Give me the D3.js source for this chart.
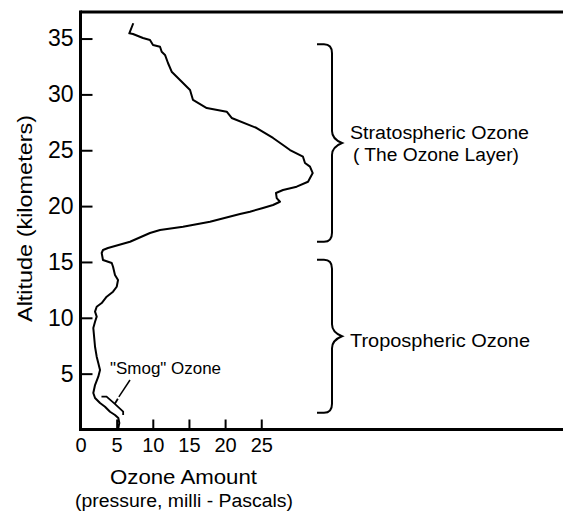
<!DOCTYPE html>
<html>
<head>
<meta charset="utf-8">
<script src="https://cdn.jsdelivr.net/npm/d3@7"></script>
<style>
  html, body { margin: 0; padding: 0; background: #fff; }
  svg { display: block; }
  text { font-family: "Liberation Sans", Arial, Helvetica, sans-serif; fill: #000; }
</style>
</head>
<body>
<svg id="chart" width="563" height="512"></svg>
<script>
// ---- data ----
const ozone = [7.30, 6.75, 7.26, 8.64, 9.61, 10.03, 11.00, 11.23, 11.69, 12.10, 12.61, 13.76, 15.15, 15.56,
  17.46, 20.22, 20.91, 24.37, 26.63, 28.01, 28.98, 30.77, 31.05, 31.74, 32.12, 31.47, 29.90, 28.01, 27.04,
  27.14, 27.59, 26.63, 25.24, 23.44, 22.06, 17.91, 14.18, 11.00, 9.61, 6.85, 3.80, 3.11, 2.93, 3.11, 4.32,
  4.50, 4.77, 5.19, 5.01, 4.50, 3.62, 2.93, 2.24, 2.01, 2.24, 2.01, 1.77, 2.01, 2.24, 2.46, 2.70, 2.46,
  2.01, 1.77, 2.01, 2.70, 3.39, 4.08, 4.77, 5.23, 5.37, 5.23];
const altitude = [36.37, 35.47, 35.41, 35.05, 34.87, 34.42, 34.27, 33.82, 33.53, 32.81, 32.03, 31.29, 30.39, 29.50,
  28.78, 28.45, 27.89, 26.99, 26.10, 25.47, 25.02, 24.42, 23.86, 23.53, 22.96, 22.18, 21.74, 21.44, 21.17,
  20.72, 20.39, 20.10, 19.83, 19.50, 19.29, 18.60, 18.16, 17.86, 17.59, 16.81, 16.25, 16.07, 15.80, 15.17, 14.91,
  14.57, 13.83, 13.38, 12.78, 12.34, 11.89, 11.32, 10.99, 10.55, 10.10, 9.65, 9.09, 7.41, 6.52, 5.95, 5.33, 4.73,
  3.98, 3.27, 2.82, 2.37, 2.04, 1.59, 1.30, 1.03, 0.58, 0.13];
const xTicks = [0, 5, 10, 15, 20, 25];
const yTicks = [5, 10, 15, 20, 25, 30, 35];
// layer ranges in km: [bottom, top]
const layers = [
  { name: "Stratospheric Ozone", sub: "( The Ozone Layer)", range: [16.8, 34.5] },
  { name: "Tropospheric Ozone", sub: null, range: [1.5, 15.2] }
];
// smog marker in data units (ozone, altitude)
const smogBracket = [[2.9, 2.95], [3.6, 2.95], [4.75, 2.3], [5.9, 1.6], [5.9, 1.3]];

// ---- scales ----
const svg = d3.select("#chart");
const x = d3.scaleLinear().domain([0, 25]).range([80.5, 261.25]);
const y = d3.scaleLinear().domain([0, 35]).range([429.5, 38.55]);
const xRight = 563, yTop = 12;

// ---- axes ----
const gx = svg.append("g").attr("transform", `translate(0,${y(0)})`)
  .call(d3.axisBottom(x).tickValues(xTicks).tickSize(-10).tickPadding(8).tickFormat(d3.format("d")));
gx.select(".domain").remove();
gx.selectAll(".tick line").attr("stroke", "#000").attr("stroke-width", 2);
gx.selectAll(".tick text").attr("font-size", 20);
gx.selectAll(".tick").filter(d => d === 0).select("line").remove();

const gy = svg.append("g").attr("transform", `translate(${x(0)},0)`)
  .call(d3.axisLeft(y).tickValues(yTicks).tickSize(-12).tickPadding(7).tickFormat(d3.format("d")));
gy.select(".domain").remove();
gy.selectAll(".tick line").attr("stroke", "#000").attr("stroke-width", 2);
gy.selectAll(".tick text").attr("font-size", 23);

// frame lines
svg.append("line").attr("x1", x(0)).attr("x2", x(0)).attr("y1", yTop - 1.5).attr("y2", y(0) + 1.5)
  .attr("stroke", "#000").attr("stroke-width", 3);
svg.append("line").attr("x1", x(0)).attr("x2", xRight).attr("y1", y(0)).attr("y2", y(0))
  .attr("stroke", "#000").attr("stroke-width", 3);
svg.append("line").attr("x1", x(0)).attr("x2", xRight).attr("y1", yTop).attr("y2", yTop)
  .attr("stroke", "#000").attr("stroke-width", 3);

// ---- profile curve ----
const pts = ozone.map((v, i) => [v, altitude[i]]);
svg.append("path")
  .attr("d", d3.line().x(d => x(d[0])).y(d => y(d[1]))(pts))
  .attr("fill", "none").attr("stroke", "#000").attr("stroke-width", 2)
  .attr("stroke-linejoin", "round");

// ---- smog annotation ----
svg.append("path")
  .attr("d", d3.line().x(d => x(d[0])).y(d => y(d[1]))(smogBracket))
  .attr("fill", "none").attr("stroke", "#000").attr("stroke-width", 1.8);
const mid = smogBracket[2];
svg.append("line")
  .attr("x1", x(mid[0])).attr("y1", y(mid[1]))
  .attr("x2", x(mid[0]) + 3).attr("y2", y(mid[1]) - 5)
  .attr("stroke", "#000").attr("stroke-width", 1.8);
svg.append("line")
  .attr("x1", x(mid[0]) + 4).attr("y1", y(mid[1]) - 7)
  .attr("x2", 130).attr("y2", 380)
  .attr("stroke", "#000").attr("stroke-width", 1.5);
svg.append("text").attr("x", 110).attr("y", 374).attr("font-size", 17)
  .attr("textLength", 111).attr("lengthAdjust", "spacingAndGlyphs")
  .text("\"Smog\" Ozone");

// ---- braces ----
function brace(y1, y2) {
  const xl = 317, xs = 332, xt = 342;
  const ym = (y1 + y2) / 2;
  return `M${xl},${y1} L${xs - 8},${y1} Q${xs},${y1} ${xs},${y1 + 9} L${xs},${ym - 12} Q${xs},${ym - 4} ${xt},${ym}` +
         ` Q${xs},${ym + 4} ${xs},${ym + 12} L${xs},${y2 - 9} Q${xs},${y2} ${xs - 8},${y2} L${xl},${y2}`;
}
layers.forEach(l => {
  svg.append("path").attr("d", brace(y(l.range[1]), y(l.range[0])))
    .attr("fill", "none").attr("stroke", "#000").attr("stroke-width", 2);
});
svg.append("text").attr("x", 350).attr("y", 139).attr("font-size", 18)
  .attr("textLength", 179).attr("lengthAdjust", "spacingAndGlyphs").text(layers[0].name);
svg.append("text").attr("x", 353).attr("y", 161).attr("font-size", 18)
  .attr("textLength", 166).attr("lengthAdjust", "spacingAndGlyphs").text(layers[0].sub);
svg.append("text").attr("x", 350).attr("y", 347).attr("font-size", 18)
  .attr("textLength", 180).attr("lengthAdjust", "spacingAndGlyphs").text(layers[1].name);

// ---- axis titles ----
svg.append("text").attr("transform", "translate(32,218.5) rotate(-90)")
  .attr("text-anchor", "middle").attr("font-size", 21)
  .attr("textLength", 207).attr("lengthAdjust", "spacingAndGlyphs")
  .text("Altitude (kilometers)");
svg.append("text").attr("x", 183.5).attr("y", 484).attr("text-anchor", "middle").attr("font-size", 20)
  .attr("textLength", 147).attr("lengthAdjust", "spacingAndGlyphs").text("Ozone Amount");
svg.append("text").attr("x", 184).attr("y", 507).attr("text-anchor", "middle").attr("font-size", 18)
  .attr("textLength", 218).attr("lengthAdjust", "spacingAndGlyphs").text("(pressure, milli - Pascals)");
</script>
</body>
</html>
